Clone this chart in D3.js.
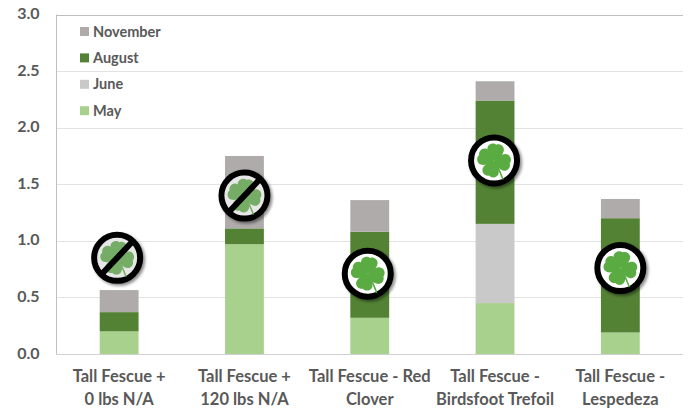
<!DOCTYPE html>
<html>
<head>
<meta charset="utf-8">
<script src="https://cdn.jsdelivr.net/npm/d3@7"></script>
<style>
html,body{margin:0;padding:0;background:#fff}
svg{display:block}
text{font-family:Lato,"Open Sans",sans-serif;font-weight:700;fill:#595959}
</style>
</head>
<body>
<svg id="chart" width="689" height="410"></svg>
<script>
const categories = [
  ["Tall Fescue +", "0 lbs N/A"],
  ["Tall Fescue +", "120 lbs N/A"],
  ["Tall Fescue - Red", "Clover"],
  ["Tall Fescue -", "Birdsfoot Trefoil"],
  ["Tall Fescue -", "Lespedeza"]
];
const seasons = ["May", "June", "August", "November"];
const may = [0.20, 0.97, 0.32, 0.45, 0.19];
const june = [0, 0, 0, 0.70, 0];
const august = [0.17, 0.14, 0.76, 1.09, 1.01];
const november = [0.195, 0.64, 0.28, 0.17, 0.17];
const colors = ["#a9d18e", "#c9c9c9", "#548235", "#afabab"];
const yTicks = [0, 0.5, 1, 1.5, 2, 2.5, 3];
// Where each clover badge sits on the value axis, and whether it is crossed out
const badgeValues = [0.85, 1.40, 0.71, 1.71, 0.76];
const badgeOffset = [-2, 0, -2, -1, 0];
const crossedOut = [true, true, false, false, false];

const svg = d3.select("#chart");
const x = d3.scaleBand().domain(d3.range(categories.length)).range([56.5, 683])
  .paddingInner(0.69).paddingOuter(0.345);
const y = d3.scaleLinear().domain([0, 3]).range([354, 14.5]);

const defs = svg.append("defs");
const shadow = defs.append("filter").attr("id", "badgeShadow")
  .attr("x", "-30%").attr("y", "-30%").attr("width", "160%").attr("height", "160%");
shadow.append("feDropShadow").attr("dx", 2).attr("dy", 2).attr("stdDeviation", 1.8)
  .attr("flood-color", "#000").attr("flood-opacity", 0.45);

// Gridlines
svg.append("g").selectAll("line").data(yTicks.filter(d => d > 0)).join("line")
  .attr("x1", 56.5).attr("x2", 683)
  .attr("y1", d => Math.round(y(d)) + 0.5).attr("y2", d => Math.round(y(d)) + 0.5)
  .attr("stroke", d => d === 3 ? "#bfbfbf" : "#e2e2e2").attr("stroke-width", 1);

// Stacked bars
const rows = categories.map((c, i) => ({i, May: may[i], June: june[i], August: august[i], November: november[i]}));
const stacked = d3.stack().keys(seasons)(rows);
svg.append("g").selectAll("g").data(stacked).join("g")
  .attr("fill", (d, i) => colors[i])
  .selectAll("rect").data(d => d).join("rect")
  .attr("x", d => x(d.data.i))
  .attr("width", x.bandwidth())
  .attr("y", d => y(d[1]))
  .attr("height", d => y(d[0]) - y(d[1]));

// Axis frame
svg.append("line").attr("x1", 56.5).attr("x2", 56.5).attr("y1", 14.5).attr("y2", 354.5).attr("stroke", "#bfbfbf");
svg.append("line").attr("x1", 56.5).attr("x2", 683).attr("y1", 354.5).attr("y2", 354.5).attr("stroke", "#d0d0d0");

// Value axis labels
svg.append("g").selectAll("text").data(yTicks).join("text")
  .attr("x", 39.5).attr("y", d => y(d) - 1).attr("dy", "0.35em")
  .attr("text-anchor", "end").attr("font-size", 16)
  .text(d => d3.format(".1f")(d));

// Category labels
const catG = svg.append("g").selectAll("text").data(categories).join("text")
  .attr("text-anchor", "middle").attr("font-size", 16.5);
catG.selectAll("tspan").data((d, i) => d.map(t => ({t, i}))).join("tspan")
  .attr("x", d => x(d.i) + x.bandwidth() / 2)
  .attr("y", (d, j) => 382 + j * 22.5)
  .text(d => d.t);

// Legend, top to bottom
const legendOrder = ["November", "August", "June", "May"];
const lg = svg.append("g").selectAll("g").data(legendOrder).join("g")
  .attr("transform", (d, i) => `translate(80,${31 + i * 26.4})`);
lg.append("rect").attr("x", 0).attr("y", -4).attr("width", 9).attr("height", 9)
  .attr("fill", d => colors[seasons.indexOf(d)]);
lg.append("text").attr("x", 13).attr("y", 0.5).attr("dy", "0.35em").attr("font-size", 14.5).text(d => d);

// Clover badges: four rounded leaves on a thin stem
const leaf = "M0,0 C-3,-2 -8.5,-6 -8.5,-11 C-8.5,-15.5 -3,-17.5 0,-15.5 C3,-17.5 8.5,-15.5 8.5,-11 C8.5,-6 3,-2 0,0 Z";
const badges = svg.append("g").selectAll("g").data(badgeValues).join("g")
  .attr("transform", (d, i) => `translate(${x(i) + x.bandwidth() / 2 + badgeOffset[i]},${y(d)})`);
badges.append("circle").attr("r", 23).attr("fill", "#fff")
  .attr("stroke", "#000").attr("stroke-width", 6).attr("filter", "url(#badgeShadow)");
const clover = badges.append("g").attr("opacity", (d, i) => crossedOut[i] ? 0.85 : 1);
clover.append("path").attr("d", "M1,1 C4,6 6,12 9,19").attr("fill", "none")
  .attr("stroke", "#5aab42").attr("stroke-width", 1.6);
clover.selectAll("path.leaf").data([8, 100, 198, -70]).join("path")
  .attr("class", "leaf").attr("d", leaf).attr("fill", "#5aab42")
  .attr("transform", a => `rotate(${a}) scale(0.98,1.02)`);
badges.filter((d, i) => crossedOut[i]).append("circle").attr("r", 20)
  .attr("fill", "#888").attr("fill-opacity", 0.2);
badges.filter((d, i) => crossedOut[i]).append("line")
  .attr("x1", -16).attr("y1", 17).attr("x2", 16).attr("y2", -17)
  .attr("stroke", "#000").attr("stroke-width", 6);
</script>
</body>
</html>
